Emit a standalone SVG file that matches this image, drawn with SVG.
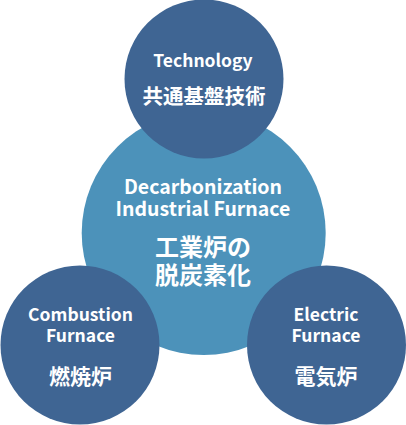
<svg xmlns="http://www.w3.org/2000/svg" width="406" height="425" viewBox="0 0 406 425">
<style>
.dark{fill:#3f6593}
.light{fill:#4c92ba}
text{fill:#ffffff;font-family:"Noto Sans CJK JP","Noto Sans",sans-serif;font-weight:bold;text-anchor:middle}
.en{font-size:17.5px}
.enc{font-size:19.5px}
.ja{font-size:20.5px}
.jas{font-size:21px}
.jab{font-size:24px}
</style>
<rect width="406" height="425" fill="#ffffff"/>
<g id="connectors"></g>
<g id="center">
<circle class="light" cx="203.7" cy="233" r="122"/>
<text class="enc" x="203" y="194">Decarbonization</text>
<text class="enc" x="203" y="216">Industrial Furnace</text>
<text class="jab" x="203" y="256">工業炉の</text>
<text class="jab" x="203" y="284">脱炭素化</text>
</g>
<g id="technology">
<circle class="dark" cx="204" cy="79" r="79.5"/>
<text class="en" x="203" y="67">Technology</text>
<text class="ja" x="204" y="104">共通基盤技術</text>
</g>
<g id="combustion">
<circle class="dark" cx="80" cy="345" r="79.5"/>
<text class="en" x="80.5" y="321">Combustion</text>
<text class="en" x="80.5" y="342">Furnace</text>
<text class="jas" x="80.5" y="384">燃焼炉</text>
</g>
<g id="electric">
<circle class="dark" cx="326.5" cy="345" r="79.5"/>
<text class="en" x="326" y="321">Electric</text>
<text class="en" x="326" y="342">Furnace</text>
<text class="jas" x="326" y="384">電気炉</text>
</g>
</svg>
